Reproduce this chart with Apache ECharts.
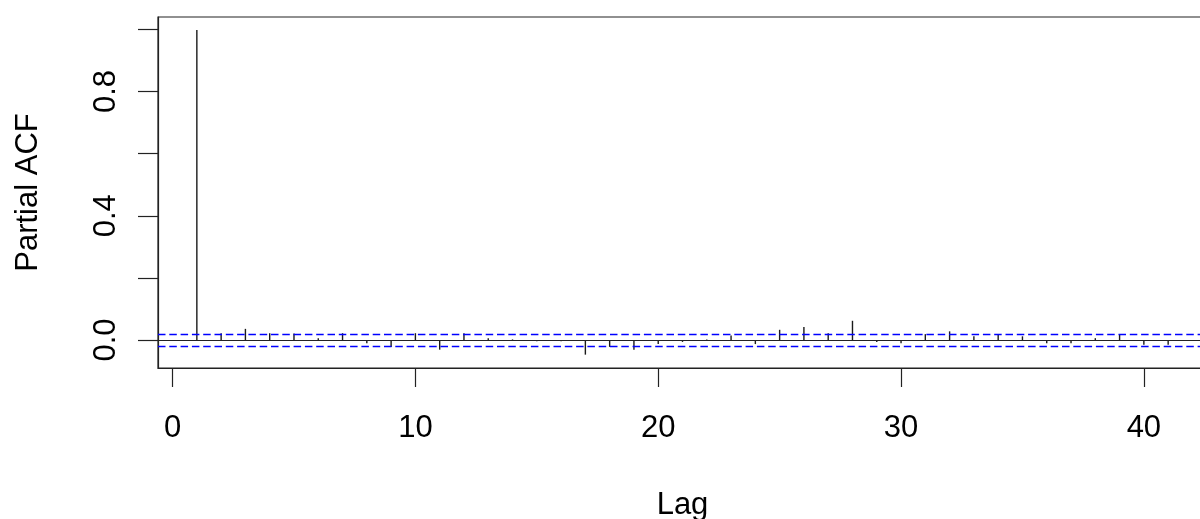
<!DOCTYPE html>
<html>
<head>
<meta charset="utf-8">
<script src="https://cdn.jsdelivr.net/npm/echarts@6/dist/echarts.min.js"></script>
<style>
html,body{margin:0;padding:0;background:#fff;}
#chart{width:1200px;height:519px;}
</style>
</head>
<body>
<div id="chart"></div>
<script>
// Data
const lags = [1,2,3,4,5,6,7,8,9,10,11,12,13,14,15,16,17,18,19,20,21,22,23,24,25,26,27,28,29,30,31,32,33,34,35,36,37,38,39,40,41];
const pacfValues = [0.998,0.022,0.036,0.022,0.021,0.006,0.022,-0.010,-0.022,0.022,
                    -0.031,0.022,0.006,0.002,-0.004,-0.004,-0.047,-0.022,-0.031,-0.013,
                    -0.006,0.002,0.015,-0.013,0.033,0.042,0.022,0.062,-0.006,-0.010,
                    0.019,0.028,0.012,0.017,0.012,-0.010,-0.010,0.006,0.019,-0.015,-0.015];
const confLimit = 0.0185;
const xTickValues = [0,10,20,30,40];
const yTickValues = [0,0.2,0.4,0.6,0.8,1.0];
const yLabelValues = [0,0.4,0.8];
const xAxisTitle = 'Lag';
const yAxisTitle = 'Partial ACF';

const seriesData = lags.map((l,i)=>[l, pacfValues[i]]);
const FONT = 'Liberation Sans, Arial, sans-serif';
const FS = 31;

const chart = echarts.init(document.getElementById('chart'), null, {renderer:'canvas'});
chart.setOption({
  animation:false,
  backgroundColor:'#fff',
  grid:{left:158, top:17, width:1049, height:351, show:true, borderColor:'#222', borderWidth:1.2, backgroundColor:'transparent', containLabel:false, outerBoundsMode:'none'},
  xAxis:{
    type:'value', min:-0.6, max:42.6, position:'bottom',
    name:xAxisTitle, nameLocation:'middle', nameGap:122,
    nameTextStyle:{fontFamily:FONT, fontSize:FS, color:'#000'},
    axisLine:{show:true, onZero:false, lineStyle:{color:'#222', width:1.2}},
    axisTick:{show:true, inside:false, length:19, customValues:xTickValues, lineStyle:{color:'#222', width:1.2}},
    axisLabel:{show:true, customValues:xTickValues, margin:45, fontFamily:FONT, fontSize:FS, color:'#000'},
    splitLine:{show:false}
  },
  yAxis:{
    type:'value', min:-0.090, max:1.040, position:'left',
    name:yAxisTitle, nameLocation:'middle', nameGap:114, nameRotate:90,
    nameTextStyle:{fontFamily:FONT, fontSize:FS, color:'#000'},
    axisLine:{show:true, onZero:false, lineStyle:{color:'#222', width:1.2}},
    axisTick:{show:true, inside:false, length:20, customValues:yTickValues, lineStyle:{color:'#222', width:1.2}},
    axisLabel:{show:true, customValues:yLabelValues, rotate:90, margin:36, fontFamily:FONT, fontSize:FS, color:'#000',
      formatter:v=>Number(v).toFixed(1)},
    splitLine:{show:false}
  },
  series:[
    {
      type:'line', data:[], silent:true,
      markLine:{
        silent:true, symbol:['none','none'], label:{show:false},
        data:[
          {yAxis:0, lineStyle:{color:'#222', width:1.2, type:'solid'}},
          {yAxis:confLimit, lineStyle:{color:'#0000ff', width:1.4, type:[7.5,3.8]}},
          {yAxis:-confLimit, lineStyle:{color:'#0000ff', width:1.4, type:[7.5,3.8]}}
        ]
      }
    },
    {
      type:'custom', data:seriesData, silent:true,
      renderItem:function(params, api){
        const x = api.value(0), y = api.value(1);
        const p0 = api.coord([x,0]);
        const p1 = api.coord([x,y]);
        return {type:'line', shape:{x1:p0[0], y1:p0[1], x2:p1[0], y2:p1[1]},
                style:{stroke:'#1a1a1a', lineWidth:1.4}};
      }
    }
  ]
});
</script>
</body>
</html>
